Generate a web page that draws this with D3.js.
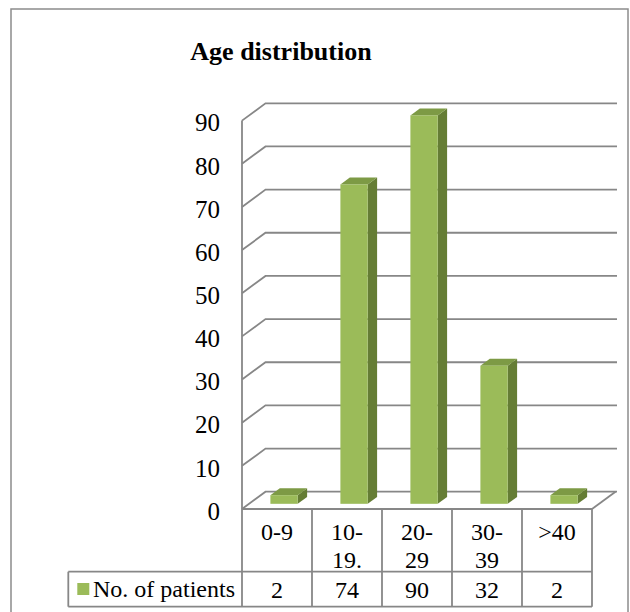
<!DOCTYPE html>
<html>
<head>
<meta charset="utf-8">
<script src="https://cdn.jsdelivr.net/npm/d3@7"></script>
<style>
  body { margin: 0; background: #fff; }
  text { font-family: "Liberation Serif", "Times New Roman", serif; fill: #000; }
</style>
</head>
<body>
<div id="content"></div>
<script>
// data
const categories = ["0-9", "10-19.", "20-29", "30-39", ">40"];
const categoryLines = [["0-9"], ["10-", "19."], ["20-", "29"], ["30-", "39"], [">40"]];
const patients = [2, 74, 90, 32, 2];
const yTicks = [0, 10, 20, 30, 40, 50, 60, 70, 80, 90];
const seriesName = "No. of patients";
const chartTitle = "Age distribution";

const width = 630, height = 612;
const svg = d3.select("#content").append("svg")
    .attr("width", width).attr("height", height);

// 3D wall offset (front -> back)
const depthX = 23.5, depthY = -17.3;
const barFront = 0.3, barBack = 0.7;
const gridColor = "#878787";

const x = d3.scaleBand().domain(categories).range([242, 592]);
const y = d3.scaleLinear().domain([0, 90]).range([509, 120.6]);
const right = 617;

// outer frame
svg.append("rect")
    .attr("x", 11).attr("y", 9).attr("width", 617).attr("height", 640)
    .attr("fill", "none").attr("stroke", "#8c8c8c").attr("stroke-width", 1.5);

// title
svg.append("text")
    .attr("x", 281).attr("y", 60)
    .attr("text-anchor", "middle")
    .style("font-size", "26px").style("font-weight", "bold")
    .text(chartTitle);

// gridlines (diagonal on the side wall + horizontal on back wall)
const grid = svg.append("g").attr("fill", "none")
    .attr("stroke", gridColor).attr("stroke-width", 1.8);
grid.selectAll("path.grid")
    .data(yTicks)
    .enter().append("path")
    .attr("class", "grid")
    .attr("d", d => `M${x.range()[0]},${y(d)}L${x.range()[0] + depthX},${y(d) + depthY}H${right}`);

// floor right edge
grid.append("path")
    .attr("d", `M${x.range()[1]},${y(0)}L${x.range()[1] + depthX},${y(0) + depthY}`);

// y axis line
grid.append("line")
    .attr("x1", x.range()[0]).attr("x2", x.range()[0])
    .attr("y1", y(90)).attr("y2", y(0));

// y labels
svg.append("g").selectAll("text")
    .data(yTicks)
    .enter().append("text")
    .attr("x", 220)
    .attr("y", d => y(d) + 2)
    .attr("dy", "0.35em")
    .attr("text-anchor", "end")
    .style("font-size", "25px")
    .text(d => d);

// bars
const bw = x.bandwidth() * 0.39;
const fx = barFront * depthX, fy = barFront * depthY;
const bdx = (barBack - barFront) * depthX, bdy = (barBack - barFront) * depthY;
const bars = svg.append("g").selectAll("g")
    .data(patients)
    .enter().append("g");

bars.each(function (v, i) {
    const g = d3.select(this);
    const x0 = x(categories[i]) + x.bandwidth() / 2 - bw / 2 + fx;
    const x1 = x0 + bw;
    const yb = y(0) + fy;
    const yt = y(v) + fy;
    // side
    g.append("path")
        .attr("d", `M${x1},${yb}L${x1 + bdx},${yb + bdy}L${x1 + bdx},${yt + bdy}L${x1},${yt}Z`)
        .attr("fill", "#657d35");
    // top
    g.append("path")
        .attr("d", `M${x0},${yt}L${x0 + bdx},${yt + bdy}L${x1 + bdx},${yt + bdy}L${x1},${yt}Z`)
        .attr("fill", "#7d9a45");
    // front
    g.append("rect")
        .attr("x", x0).attr("y", yt)
        .attr("width", bw).attr("height", yb - yt)
        .attr("fill", "#9bbb59");
});

// data table
const rowTop = y(0), rowMid = 571.7, rowBot = 606.7, legendLeft = 68.3;
const table = svg.append("g").attr("fill", "none")
    .attr("stroke", gridColor).attr("stroke-width", 1.8);
table.append("line")
    .attr("x1", x.range()[0]).attr("x2", x.range()[1])
    .attr("y1", rowTop).attr("y2", rowTop);
table.append("line")
    .attr("x1", legendLeft).attr("x2", x.range()[1])
    .attr("y1", rowMid).attr("y2", rowMid);
table.append("line")
    .attr("x1", legendLeft).attr("x2", x.range()[1])
    .attr("y1", rowBot).attr("y2", rowBot);
table.append("line")
    .attr("x1", legendLeft).attr("x2", legendLeft)
    .attr("y1", rowMid).attr("y2", rowBot);
table.selectAll("line.col")
    .data(categories.concat(["end"]))
    .enter().append("line")
    .attr("class", "col")
    .attr("x1", (d, i) => i < categories.length ? x(d) : x.range()[1])
    .attr("x2", (d, i) => i < categories.length ? x(d) : x.range()[1])
    .attr("y1", rowTop).attr("y2", rowBot);

// category labels
const catText = svg.append("g").selectAll("text")
    .data(categoryLines)
    .enter().append("text")
    .attr("text-anchor", "middle")
    .style("font-size", "24px");
catText.each(function (lines, i) {
    const t = d3.select(this);
    lines.forEach((l, k) => {
        t.append("tspan")
            .attr("x", x(categories[i]) + x.bandwidth() / 2)
            .attr("y", 539.5 + k * 28)
            .text(l);
    });
});

// values row
svg.append("g").selectAll("text")
    .data(patients)
    .enter().append("text")
    .attr("x", (d, i) => x(categories[i]) + x.bandwidth() / 2)
    .attr("y", 597.5)
    .attr("text-anchor", "middle")
    .style("font-size", "24px")
    .text(d => d);

// legend key
svg.append("rect")
    .attr("x", 77.3).attr("y", 583).attr("width", 12).attr("height", 12)
    .attr("fill", "#9bbb59");
svg.append("text")
    .attr("x", 93).attr("y", 596.5)
    .style("font-size", "24px")
    .text(seriesName);
</script>
</body>
</html>
